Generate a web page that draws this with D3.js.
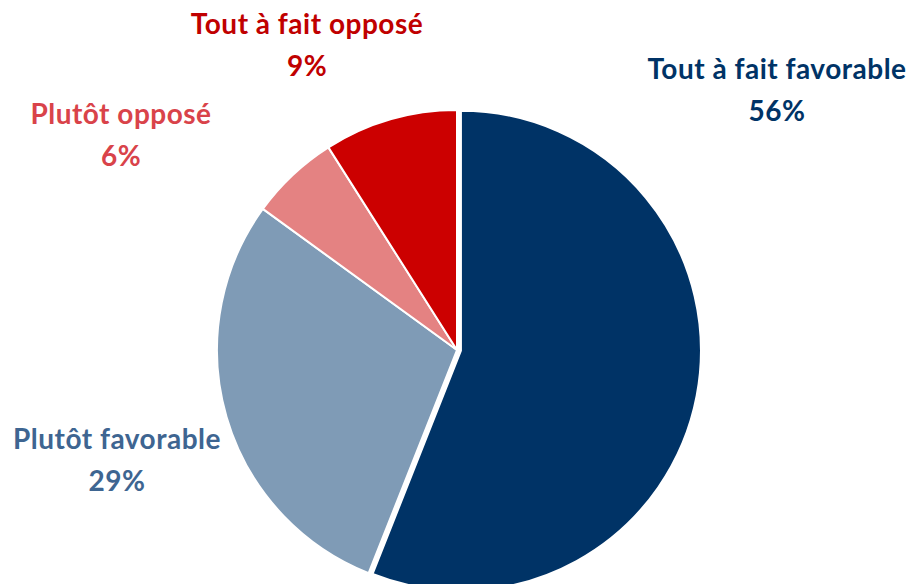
<!DOCTYPE html>
<html>
<head>
  <meta charset="utf-8">
  <script src="https://d3js.org/d3.v7.min.js"></script>
  <style>
    body { margin: 0; background: #fff; }
    text { font-family: Lato, "Open Sans", sans-serif; font-weight: bold; letter-spacing: 0.5px; }
  </style>
</head>
<body>
<script>
// data
var categories = ["Tout à fait favorable", "Plutôt favorable", "Plutôt opposé", "Tout à fait opposé"];
var values = [56, 29, 6, 9];

// styles / layout
var sliceColors = ["#003366", "#7F9BB6", "#E48282", "#CC0000"];
var labelColors = ["#003366", "#3E6591", "#D9434A", "#C00000"];
var labelPos = [[777, 79], [117, 449], [121, 124], [307, 34]]; // centre, baseline of first line
var exploded = [4, 0, 0, 0];

var w = 913, h = 584;
var cx = 457, cy = 350, r = 240;

var svg = d3.select("body").append("svg")
  .attr("width", w)
  .attr("height", h);

var pie = d3.pie().sort(null).value(function(d) { return d; });
var arc = d3.arc().innerRadius(0).outerRadius(r);
var arcs = pie(values);

var g = svg.append("g").attr("transform", "translate(" + cx + "," + cy + ")");

g.selectAll("path")
  .data(arcs)
  .enter()
  .append("path")
  .attr("d", arc)
  .attr("fill", function(d, i) { return sliceColors[i]; })
  .attr("stroke", "#fff")
  .attr("stroke-width", 2)
  .attr("stroke-linejoin", "round")
  .attr("transform", function(d, i) {
    var a = (d.startAngle + d.endAngle) / 2;
    var off = exploded[i];
    return "translate(" + (Math.sin(a) * off) + "," + (-Math.cos(a) * off) + ")";
  });

var labels = svg.selectAll("text.lbl")
  .data(arcs)
  .enter()
  .append("text")
  .attr("class", "lbl")
  .attr("text-anchor", "middle")
  .attr("font-size", 28)
  .attr("fill", function(d, i) { return labelColors[i]; })
  .attr("x", function(d, i) { return labelPos[i][0]; })
  .attr("y", function(d, i) { return labelPos[i][1]; });

labels.append("tspan")
  .attr("x", function(d, i) { return labelPos[i][0]; })
  .text(function(d, i) { return categories[i]; });

labels.append("tspan")
  .attr("x", function(d, i) { return labelPos[i][0]; })
  .attr("dy", 42)
  .text(function(d) { return d.data + "%"; });
</script>
</body>
</html>
